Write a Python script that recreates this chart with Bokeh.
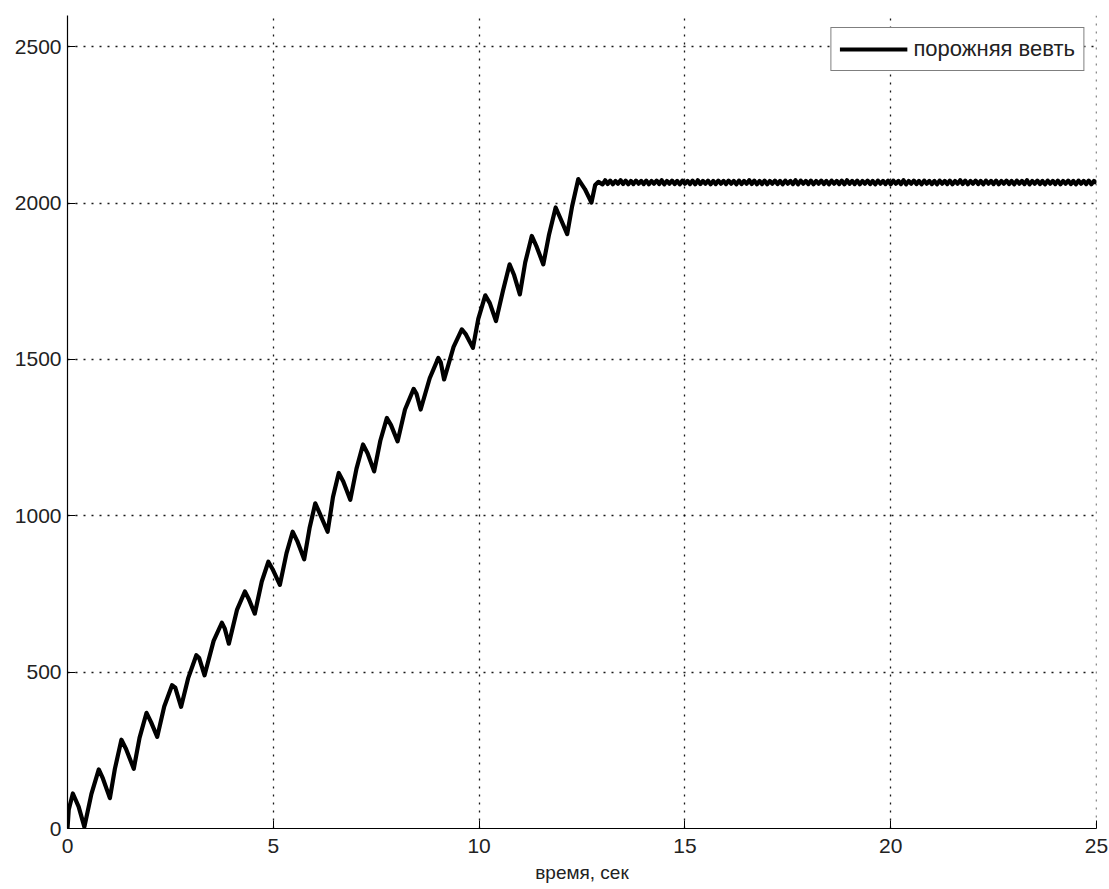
from bokeh.plotting import figure
from bokeh.models import Range1d, FixedTicker, Span, Legend, LegendItem
from bokeh.embed import file_html
from bokeh.resources import INLINE

# ---- data ----
ramp_t = [0.00, 0.03, 0.13, 0.27, 0.41, 0.58, 0.76, 0.86, 1.03, 1.15, 1.31, 1.42, 1.61,
          1.75, 1.92, 2.03, 2.18, 2.35, 2.54, 2.62, 2.76, 2.93, 3.13, 3.20, 3.33, 3.55,
          3.75, 3.82, 3.92, 4.12, 4.31, 4.40, 4.55, 4.72, 4.88, 4.98, 5.16, 5.32, 5.47,
          5.58, 5.75, 5.88, 6.02, 6.12, 6.32, 6.45, 6.59, 6.70, 6.87, 7.02, 7.18, 7.29,
          7.45, 7.60, 7.76, 7.86, 8.02, 8.20, 8.41, 8.48, 8.58, 8.80, 9.01, 9.07, 9.15,
          9.38, 9.58, 9.68, 9.85, 9.98, 10.15, 10.26, 10.41, 10.58, 10.74, 10.85, 10.99,
          11.12, 11.28, 11.40, 11.56, 11.70, 11.86, 11.98, 12.14, 12.26, 12.41, 12.57,
          12.73, 12.82, 12.90]
ramp_v = [0, 60, 112, 70, 5, 110, 189, 160, 97, 190, 284, 255, 191,
          290, 370, 340, 293, 390, 458, 450, 389, 480, 554, 545, 490, 600,
          658, 640, 591, 700, 758, 735, 687, 790, 853, 830, 779, 880, 949,
          920, 861, 960, 1040, 1010, 949, 1060, 1137, 1110, 1051, 1150, 1228, 1200,
          1142, 1240, 1313, 1290, 1238, 1340, 1406, 1390, 1340, 1440, 1505, 1490, 1436,
          1540, 1596, 1580, 1537, 1630, 1705, 1680, 1623, 1720, 1804, 1770, 1708,
          1810, 1895, 1860, 1804, 1900, 1986, 1950, 1901, 1990, 2077, 2045,
          2002, 2058, 2068]

tail_t = [
    13.0, 13.0625, 13.125, 13.1875, 13.25, 13.3125, 13.375, 13.4375, 13.5, 13.5625, 13.625, 13.6875, 13.75, 13.8125, 13.875, 13.9375,
    14.0, 14.0625, 14.125, 14.1875, 14.25, 14.3125, 14.375, 14.4375, 14.5, 14.5625, 14.625, 14.6875, 14.75, 14.8125, 14.875, 14.9375,
    15.0, 15.0625, 15.125, 15.1875, 15.25, 15.3125, 15.375, 15.4375, 15.5, 15.5625, 15.625, 15.6875, 15.75, 15.8125, 15.875, 15.9375,
    16.0, 16.0625, 16.125, 16.1875, 16.25, 16.3125, 16.375, 16.4375, 16.5, 16.5625, 16.625, 16.6875, 16.75, 16.8125, 16.875, 16.9375,
    17.0, 17.0625, 17.125, 17.1875, 17.25, 17.3125, 17.375, 17.4375, 17.5, 17.5625, 17.625, 17.6875, 17.75, 17.8125, 17.875, 17.9375,
    18.0, 18.0625, 18.125, 18.1875, 18.25, 18.3125, 18.375, 18.4375, 18.5, 18.5625, 18.625, 18.6875, 18.75, 18.8125, 18.875, 18.9375,
    19.0, 19.0625, 19.125, 19.1875, 19.25, 19.3125, 19.375, 19.4375, 19.5, 19.5625, 19.625, 19.6875, 19.75, 19.8125, 19.875, 19.9375,
    20.0, 20.0625, 20.125, 20.1875, 20.25, 20.3125, 20.375, 20.4375, 20.5, 20.5625, 20.625, 20.6875, 20.75, 20.8125, 20.875, 20.9375,
    21.0, 21.0625, 21.125, 21.1875, 21.25, 21.3125, 21.375, 21.4375, 21.5, 21.5625, 21.625, 21.6875, 21.75, 21.8125, 21.875, 21.9375,
    22.0, 22.0625, 22.125, 22.1875, 22.25, 22.3125, 22.375, 22.4375, 22.5, 22.5625, 22.625, 22.6875, 22.75, 22.8125, 22.875, 22.9375,
    23.0, 23.0625, 23.125, 23.1875, 23.25, 23.3125, 23.375, 23.4375, 23.5, 23.5625, 23.625, 23.6875, 23.75, 23.8125, 23.875, 23.9375,
    24.0, 24.0625, 24.125, 24.1875, 24.25, 24.3125, 24.375, 24.4375, 24.5, 24.5625, 24.625, 24.6875, 24.75, 24.8125, 24.875, 24.9375,
    25.0]
tail_v = [
    2060, 2073, 2061, 2072, 2060, 2071, 2062, 2073, 2061, 2072, 2060, 2071, 2061, 2072, 2062, 2071,
    2061, 2072, 2060, 2071, 2062, 2072, 2061, 2073, 2060, 2071, 2062, 2072, 2061, 2071, 2060, 2072,
    2062, 2071, 2061, 2072, 2060, 2073, 2061, 2071, 2062, 2072, 2060, 2071, 2061, 2072, 2062, 2071,
    2061, 2072, 2062, 2071, 2060, 2072, 2061, 2071, 2062, 2073, 2061, 2072, 2060, 2071, 2061, 2072,
    2060, 2071, 2062, 2072, 2061, 2071, 2060, 2072, 2062, 2071, 2061, 2073, 2060, 2072, 2062, 2071,
    2061, 2072, 2060, 2071, 2062, 2072, 2061, 2071, 2060, 2072, 2062, 2071, 2061, 2072, 2060, 2073,
    2062, 2071, 2061, 2072, 2060, 2071, 2062, 2072, 2061, 2071, 2060, 2072, 2062, 2071, 2061, 2072,
    2060, 2072, 2062, 2071, 2061, 2073, 2060, 2071, 2062, 2072, 2061, 2071, 2060, 2072, 2062, 2071,
    2061, 2071, 2060, 2072, 2062, 2071, 2061, 2072, 2060, 2071, 2062, 2073, 2061, 2072, 2060, 2071,
    2062, 2072, 2061, 2071, 2060, 2072, 2062, 2071, 2061, 2072, 2060, 2071, 2062, 2072, 2061, 2071,
    2060, 2072, 2062, 2071, 2061, 2073, 2060, 2071, 2062, 2072, 2061, 2071, 2060, 2072, 2062, 2071,
    2061, 2072, 2060, 2071, 2062, 2072, 2061, 2071, 2060, 2072, 2062, 2071, 2061, 2072, 2060, 2071,
    2064]

x_ticks = [0, 5, 10, 15, 20, 25]
y_ticks = [0, 500, 1000, 1500, 2000, 2500]
x_label = "время, сек"
series_name = "порожняя вевть"

t_all = ramp_t + tail_t
v_all = ramp_v + tail_v

FONT = "Liberation Sans"
TXT = "#222222"

p = figure(width=1109, height=889, output_backend="svg", toolbar_location=None,
           x_range=Range1d(0, 25), y_range=Range1d(0, 2600),
           min_border_left=67, min_border_right=13, min_border_top=15, min_border_bottom=61)
p.outline_line_color = None
p.background_fill_color = "white"
p.border_fill_color = "white"

r = p.line(t_all, v_all, line_color="black", line_width=4.2, line_join="round")

for ax, ticks in ((p.xaxis[0], x_ticks), (p.yaxis[0], y_ticks)):
    ax.ticker = FixedTicker(ticks=ticks)
    ax.major_tick_in = 8
    ax.major_tick_out = 0
    ax.minor_tick_line_color = None
    ax.axis_line_color = "black"
    ax.axis_line_width = 1.2
    ax.major_tick_line_color = "black"
    ax.major_label_text_font = FONT
    ax.major_label_text_font_size = "21px"
    ax.major_label_text_color = TXT

p.xaxis.major_label_standoff = 10
p.yaxis.major_label_standoff = 6
p.xaxis.axis_label = x_label
p.xaxis.axis_label_text_font = FONT
p.xaxis.axis_label_text_font_size = "19px"
p.xaxis.axis_label_text_font_style = "normal"
p.xaxis.axis_label_text_color = TXT
p.xaxis.axis_label_standoff = 6

for g in (p.xgrid[0], p.ygrid[0]):
    g.grid_line_color = "black"
    g.grid_line_dash = "2 6"
    g.grid_line_width = 1.3
    g.grid_line_alpha = 0.9

p.add_layout(Span(location=x_ticks[-1], dimension="height", line_color="black",
                  line_dash="2 6", line_width=1.3, line_alpha=0.9))

legend = Legend(items=[LegendItem(label=series_name, renderers=[r])],
                location="top_right", margin=12, padding=8, spacing=0,
                glyph_width=68, glyph_height=22, label_height=22, label_standoff=6,
                label_text_font=FONT, label_text_font_size="22px", label_text_color=TXT,
                border_line_color="black", border_line_width=1.2,
                background_fill_color="white", background_fill_alpha=1.0)
p.add_layout(legend)

open("out.html", "w").write(file_html(p, INLINE))
